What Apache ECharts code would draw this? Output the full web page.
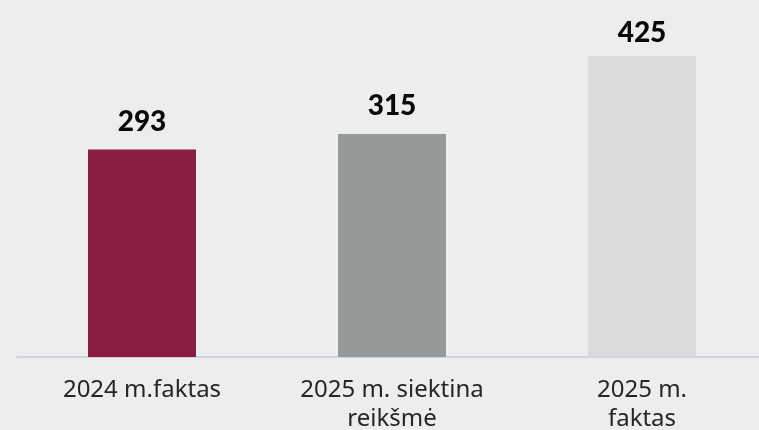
<!DOCTYPE html>
<html>
<head>
<meta charset="utf-8">
<script src="https://cdn.jsdelivr.net/npm/echarts@6/dist/echarts.min.js"></script>
<style>
html,body{margin:0;padding:0;background:#ECEDEF;}
#chart{width:759px;height:430px;}
</style>
</head>
<body>
<div id="chart"></div>
<script>
const categories = ["2024 m.faktas", "2025 m. siektina\nreikšmė", "2025 m.\nfaktas"];
const values = [293, 315, 425];
const barColors = ["#8A1E42", "#96999A", "#D9DBDC"];
const labelGaps = [14, 14, 9];

const chart = echarts.init(document.getElementById('chart'));
chart.setOption({
  backgroundColor: '#ECEDEF',
  animation: false,
  grid: { left: 17, width: 750, top: 38.4, bottom: 73, outerBoundsMode: 'none', containLabel: false },
  xAxis: {
    type: 'category',
    data: categories,
    axisTick: { show: false },
    axisLine: { lineStyle: { color: '#D3D4D8', width: 2 } },
    axisLabel: {
      color: '#262626', fontSize: 24, lineHeight: 29,
      fontFamily: '"Noto Sans", sans-serif', margin: 19, interval: 0
    }
  },
  yAxis: {
    type: 'value', min: 0, max: 450,
    show: false, splitLine: { show: false }
  },
  series: [{
    type: 'bar',
    barWidth: 108,
    data: values.map((v, i) => ({
      value: v,
      itemStyle: { color: barColors[i] },
      label: { distance: labelGaps[i] }
    })),
    label: {
      show: true, position: 'top',
      color: '#0A0A0A', fontSize: 28, fontWeight: 900,
      fontFamily: 'Lato, "Noto Sans", sans-serif'
    }
  }]
});
</script>
</body>
</html>
